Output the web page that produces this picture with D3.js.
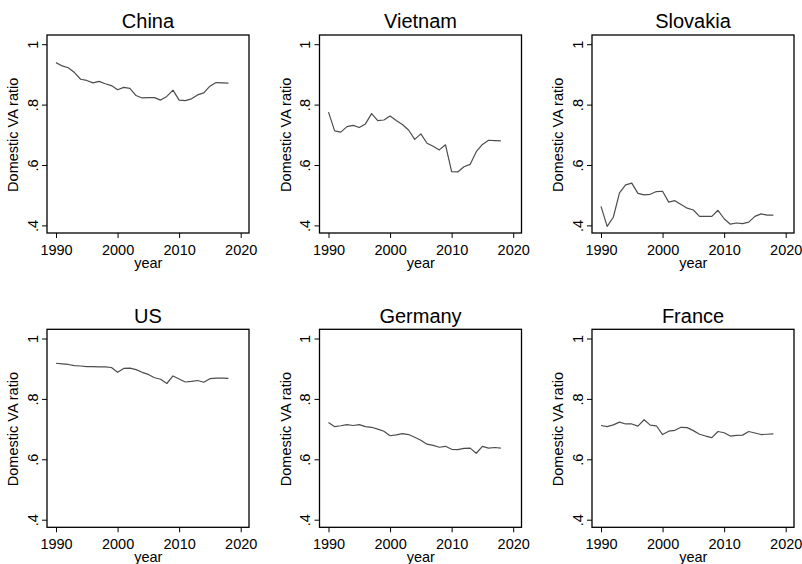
<!DOCTYPE html>
<html>
<head>
<meta charset="utf-8">
<script src="https://cdn.jsdelivr.net/npm/d3@7"></script>
<style>
  body { margin:0; background:#fff; }
  text { font-family: "Liberation Sans", Arial, Helvetica, sans-serif; fill:#000; }
</style>
</head>
<body>
<div id="chart-area"></div>
<script>
// data, one value per year 1990-2018
var years = d3.range(1990, 2019);
var countries = ["China", "Vietnam", "Slovakia", "US", "Germany", "France"];
var xTicks = [1990, 2000, 2010, 2020];
var yTicks = [0.4, 0.6, 0.8, 1];

var china = [0.939,0.928,0.922,0.906,0.884,0.880,0.872,0.877,0.869,0.863,
             0.849,0.857,0.854,0.830,0.822,0.823,0.823,0.815,0.827,0.848,
             0.815,0.813,0.819,0.832,0.839,0.861,0.873,0.872,0.871];
var vietnam = [0.775,0.713,0.709,0.727,0.731,0.724,0.736,0.770,0.747,0.749,
               0.762,0.747,0.734,0.716,0.685,0.703,0.672,0.662,0.650,0.667,
               0.578,0.577,0.594,0.602,0.644,0.668,0.682,0.681,0.680];
var slovakia = [0.463,0.397,0.427,0.508,0.534,0.540,0.506,0.501,0.503,0.512,
                0.513,0.477,0.482,0.469,0.457,0.451,0.430,0.430,0.430,0.450,
                0.422,0.404,0.408,0.406,0.411,0.430,0.438,0.434,0.434];
var us = [0.918,0.916,0.914,0.910,0.909,0.907,0.907,0.906,0.906,0.904,
          0.888,0.901,0.902,0.897,0.888,0.881,0.870,0.865,0.851,0.876,
          0.866,0.856,0.858,0.861,0.855,0.867,0.869,0.869,0.868];
var germany = [0.722,0.708,0.711,0.715,0.712,0.715,0.708,0.706,0.700,0.693,
               0.678,0.681,0.685,0.682,0.673,0.663,0.650,0.646,0.640,0.643,
               0.633,0.632,0.636,0.637,0.620,0.643,0.637,0.639,0.637];
var france = [0.712,0.708,0.714,0.723,0.717,0.717,0.710,0.731,0.713,0.711,
              0.682,0.693,0.696,0.706,0.705,0.695,0.683,0.677,0.672,0.692,
              0.688,0.677,0.679,0.680,0.692,0.687,0.682,0.683,0.684];

var series = [china, vietnam, slovakia, us, germany, france];

var boxW = 202, boxH = 198;
var colLeft = [47, 319.5, 592];
var rowTop = [35, 329.3];

var svg = d3.select("#chart-area")
    .append("svg")
        .attr("width", 802)
        .attr("height", 564);

countries.forEach(function(name, i){
  var left = colLeft[i % 3],
      top = rowTop[Math.floor(i / 3)];

  var g = svg.append("g")
      .attr("transform", "translate(" + left + "," + top + ")");

  var x = d3.scaleLinear().domain([1990, 2020]).range([9, 193.7]);
  var y = d3.scaleLinear().domain([0.4, 1]).range([190.4, 9.2]);

  // x axis
  var xAxisGroup = g.append("g")
      .attr("font-size", 14.5)
      .attr("transform", "translate(0," + boxH + ")")
      .call(d3.axisBottom(x).tickValues(xTicks).tickSize(5).tickFormat(d3.format("d")));
  xAxisGroup.attr("font-size", 14.5).attr("font-family", null);
  xAxisGroup.select(".domain").remove();
  xAxisGroup.selectAll("line").attr("stroke", "#000");
  xAxisGroup.selectAll("text")
      .attr("y", 21.5)
      .attr("dy", null);

  // y axis, labels rotated like Stata
  var yAxisGroup = g.append("g")
      .call(d3.axisLeft(y).tickValues(yTicks).tickSize(5)
        .tickFormat(function(d){ return d == 1 ? "1" : d3.format(".1f")(d).replace(/^0/, ""); }));
  yAxisGroup.attr("font-size", 14.5).attr("font-family", null);
  yAxisGroup.select(".domain").remove();
  yAxisGroup.selectAll("line").attr("stroke", "#000");
  yAxisGroup.selectAll("text")
      .attr("x", 0)
      .attr("dy", null)
      .attr("text-anchor", "middle")
      .attr("transform", "translate(-9.5,0) rotate(-90)");

  // plot box
  g.append("rect")
      .attr("x", 0)
      .attr("y", 0)
      .attr("width", boxW)
      .attr("height", boxH)
      .attr("fill", "none")
      .attr("stroke", "#000")
      .attr("stroke-width", 1.3);

  // line
  var line = d3.line()
      .x(function(d, j){ return x(years[j]); })
      .y(function(d){ return y(d); });

  g.append("path")
      .datum(series[i])
      .attr("fill", "none")
      .attr("stroke", "#4d4d4d")
      .attr("stroke-width", 1.2)
      .attr("stroke-linejoin", "round")
      .attr("d", line);

  // title
  g.append("text")
      .attr("x", boxW / 2)
      .attr("y", -6.7)
      .attr("font-size", "20px")
      .attr("text-anchor", "middle")
      .text(name);

  // label X
  g.append("text")
      .attr("x", (x(1990) + x(2020)) / 2)
      .attr("y", boxH + 35)
      .attr("font-size", "14.5px")
      .attr("text-anchor", "middle")
      .text("year");

  // label Y
  g.append("text")
      .attr("x", -(y(0.4) + y(1)) / 2)
      .attr("y", -29)
      .attr("font-size", "14.5px")
      .attr("text-anchor", "middle")
      .attr("transform", "rotate(-90)")
      .text("Domestic VA ratio");
});
</script>
</body>
</html>
